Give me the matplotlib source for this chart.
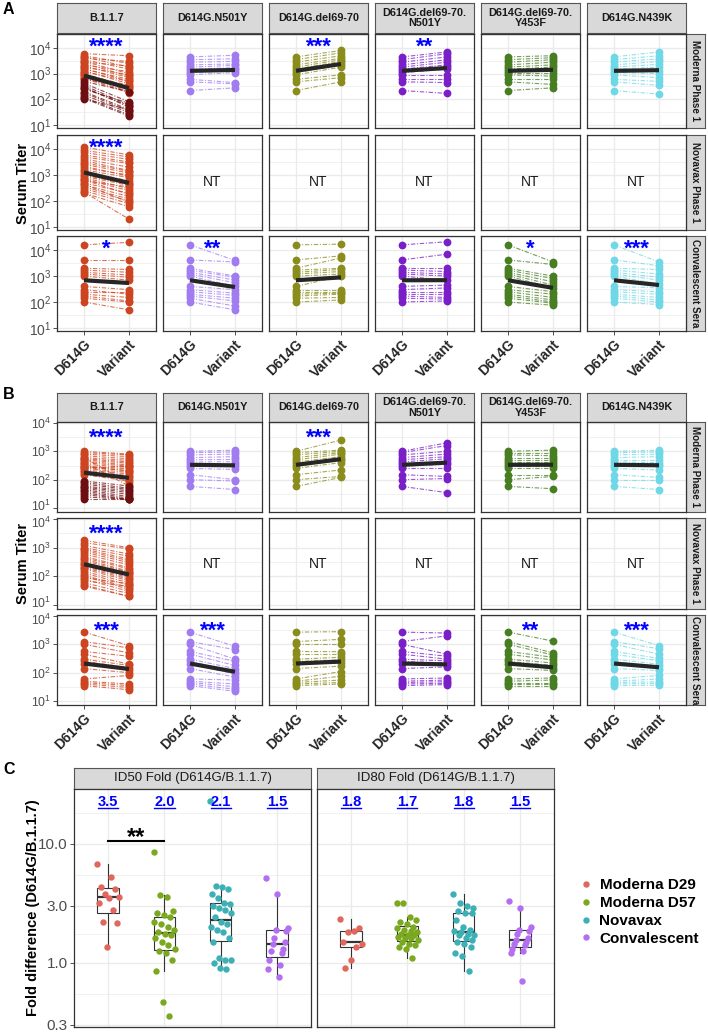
import numpy as np
import matplotlib
matplotlib.use('Agg')
import matplotlib.pyplot as plt
from matplotlib.lines import Line2D
from matplotlib.transforms import offset_copy
from matplotlib import cbook

plt.rcParams['font.family'] = ['Liberation Sans', 'DejaVu Sans']
plt.rcParams['mathtext.fontset'] = 'custom'
plt.rcParams['mathtext.rm'] = 'Liberation Sans'
plt.rcParams['mathtext.bf'] = 'Liberation Sans:bold'
plt.rcParams['mathtext.it'] = 'Liberation Sans:italic'

# ---------------- categories ----------------
variants = ["B.1.1.7", "D614G.N501Y", "D614G.del69-70", "D614G.del69-70.\nN501Y",
            "D614G.del69-70.\nY453F", "D614G.N439K"]
cohorts = ["Moderna Phase 1", "Novavax Phase 1", "Convalescent Sera"]
x_labels = ["D614G", "Variant"]
y_tick_values = [10, 100, 1000, 10000]
y_tick_labels = [r'$10^{1}$', r'$10^{2}$', r'$10^{3}$', r'$10^{4}$']
variant_colors = ["#CD4520", "#A07CF0", "#8A8C1C", "#7A1FC8", "#477E21", "#6ED8E6"]
b117_d29_color = "#6E0E10"

# ---------------- Panel A (ID50) ----------------
A_mod_b117_d57_wt = [6000, 5000, 4500, 4000, 3500, 3000, 2800, 2500, 2200, 2000, 1800,
                     1600, 1500, 1300, 1200, 1000, 900, 800, 700, 600, 1100, 650]
A_mod_b117_d57_var = [5000, 2500, 1800, 3000, 1500, 1000, 2000, 800, 1200, 700, 900,
                      500, 600, 400, 500, 300, 350, 250, 200, 300, 200, 180]
A_mod_b117_d29_wt = [500, 420, 350, 300, 250, 200, 180, 150, 120, 100, 110, 280]
A_mod_b117_d29_var = [200, 80, 60, 50, 70, 40, 35, 30, 25, 40, 22, 55]
A_mod_wt = [4500, 3500, 2800, 2200, 1800, 1500, 1300, 1100, 900, 600, 480, 220]
A_mod_n501y_var = [5200, 3800, 3000, 2400, 2100, 1700, 1500, 1300, 1100, 450, 400, 280]
A_mod_del_var = [8000, 6500, 5000, 4000, 3500, 3000, 2500, 2200, 1800, 900, 700, 480]
A_mod_deln501y_var = [7000, 6000, 4500, 3500, 2800, 2200, 1800, 1500, 900, 600, 450, 170]
A_mod_y453f_var = [5000, 4200, 3500, 2800, 2200, 1800, 1400, 1100, 800, 600, 380, 280]
A_mod_n439k_var = [7000, 5000, 3800, 3000, 2300, 1800, 1300, 1000, 700, 500, 350, 160]
A_nov_b117_wt = [12000, 9000, 7500, 6000, 5000, 4200, 3600, 3000, 2600, 2200, 1900, 1600, 1400, 1200,
                 1000, 900, 800, 700, 600, 500, 420, 350, 300, 250, 200, 220, 450, 650]
A_nov_b117_var = [6000, 5000, 4000, 3200, 2800, 2000, 1500, 1400, 1200, 900, 1000, 800, 600, 500,
                  450, 400, 300, 250, 350, 200, 150, 120, 100, 80, 60, 20, 90, 180]
A_conv_wt = [16000, 4200, 2000, 1700, 1400, 1200, 1000, 400, 300, 250, 200, 170, 140, 100]
A_conv_b117_var = [20000, 4200, 1800, 1400, 1100, 900, 700, 300, 200, 250, 150, 110, 100, 50]
A_conv_n501y_var = [4000, 3500, 1000, 900, 700, 550, 400, 300, 220, 180, 140, 110, 70, 50]
A_conv_del_var = [17000, 6000, 5000, 2000, 1800, 1500, 1200, 1000, 300, 250, 220, 200, 150, 120]
A_conv_deln501y_var = [21000, 7000, 2000, 1500, 1200, 1000, 700, 450, 350, 250, 200, 150, 130, 110]
A_conv_y453f_var = [3500, 2800, 1000, 800, 600, 450, 350, 250, 200, 150, 120, 100, 90, 75]
A_conv_n439k_var = [3500, 2500, 1800, 1200, 900, 700, 500, 350, 250, 200, 150, 120, 100, 80]
A_stars = [["****", "", "***", "**", "", ""],
           ["****", None, None, None, None, None],
           ["*", "**", "", "", "*", "***"]]

# ---------------- Panel B (ID80) ----------------
B_mod_b117_d57_wt = [1000, 900, 800, 700, 600, 550, 500, 450, 400, 350, 300,
                     280, 250, 220, 200, 180, 160, 150, 600, 400, 300, 250]
B_mod_b117_d57_var = [800, 750, 650, 550, 480, 420, 380, 330, 300, 270, 240,
                      210, 180, 160, 140, 120, 110, 90, 75, 60, 200, 300]
B_mod_b117_d29_wt = [90, 80, 70, 60, 55, 50, 45, 40, 35, 30, 25, 20]
B_mod_b117_d29_var = [60, 50, 45, 40, 35, 30, 25, 22, 20, 20, 20, 20]
B_mod_wt = [1000, 900, 750, 600, 500, 420, 350, 300, 250, 150, 100, 58]
B_mod_n501y_var = [1100, 950, 800, 650, 520, 430, 350, 300, 230, 100, 90, 45]
B_mod_del_var = [2500, 1100, 1000, 900, 800, 650, 550, 500, 400, 220, 130, 120]
B_mod_deln501y_var = [2000, 1600, 1000, 800, 650, 550, 420, 350, 250, 130, 110, 35]
B_mod_y453f_var = [1100, 900, 700, 600, 500, 420, 350, 300, 250, 150, 130, 48]
B_mod_n439k_var = [1100, 950, 800, 650, 500, 400, 330, 300, 220, 120, 100, 45]
B_nov_b117_wt = [1800, 1500, 1200, 1000, 900, 800, 700, 600, 500, 450, 400, 350, 300, 280,
                 250, 220, 200, 180, 150, 130, 110, 100, 80, 60, 50, 45, 70, 90]
B_nov_b117_var = [1000, 900, 600, 500, 400, 350, 300, 250, 200, 180, 150, 140, 130, 120,
                  100, 90, 80, 70, 60, 50, 40, 35, 30, 25, 20, 20, 45, 55]
B_conv_wt = [2700, 1250, 1000, 560, 450, 300, 250, 200, 140, 60, 50, 45, 40, 35]
B_conv_b117_var = [900, 750, 500, 380, 200, 180, 150, 120, 100, 80, 40, 35, 30, 25]
B_conv_n501y_var = [850, 650, 300, 250, 180, 140, 110, 90, 70, 55, 40, 32, 26, 22]
B_conv_del_var = [2800, 1500, 1000, 550, 450, 350, 280, 220, 170, 110, 75, 55, 45, 40]
B_conv_deln501y_var = [2500, 2000, 450, 380, 300, 260, 220, 190, 160, 65, 55, 48, 42, 38]
B_conv_y453f_var = [1300, 500, 420, 350, 280, 220, 180, 150, 120, 65, 55, 45, 40, 35]
B_conv_n439k_var = [900, 700, 450, 320, 260, 200, 170, 140, 120, 80, 60, 48, 42, 36]
B_stars = [["****", "", "***", "", "", ""],
           ["****", None, None, None, None, None],
           ["***", "***", "", "", "**", "***"]]

# ---------------- Panel C (fold differences) ----------------
C_facets = ["ID50 Fold (D614G/B.1.1.7)", "ID80 Fold (D614G/B.1.1.7)"]
C_groups = ["Moderna D29", "Moderna D57", "Novavax", "Convalescent"]
C_colors = ["#E0675D", "#7AA81E", "#3DB0B5", "#B46EF0"]
C_id50_d29 = [6.8, 5.3, 4.3, 4.2, 3.8, 3.6, 3.5, 3.2, 2.8, 2.2, 2.15, 1.35]
C_id50_d57 = [8.6, 3.7, 3.6, 2.7, 2.6, 2.5, 2.4, 2.2, 2.1, 2.0, 1.9, 1.8, 1.75, 1.7,
              1.6, 1.5, 1.4, 1.3, 1.25, 1.2, 1.05, 0.85, 0.47, 0.36]
C_id50_nov = [23.0, 4.4, 4.3, 4.2, 3.8, 3.5, 3.2, 3.1, 3.0, 2.9, 2.8, 2.6, 2.4, 2.2, 2.1,
              2.0, 1.9, 1.8, 1.6, 1.5, 1.1, 1.05, 1.05, 1.0, 0.9, 0.88]
C_id50_conv = [5.2, 3.8, 1.95, 1.9, 1.85, 1.6, 1.5, 1.45, 1.3, 1.25, 1.2, 1.05, 0.95, 0.88, 0.76]
C_id80_d29 = [2.35, 1.95, 1.85, 1.8, 1.5, 1.45, 1.35, 1.05, 0.9]
C_id80_d57 = [3.2, 3.2, 2.4, 2.3, 2.2, 2.1, 2.0, 1.95, 1.9, 1.85, 1.8, 1.75, 1.7, 1.7,
              1.65, 1.6, 1.6, 1.55, 1.5, 1.45, 1.4, 1.35, 1.3, 1.1]
C_id80_nov = [3.8, 3.2, 3.0, 2.9, 2.7, 2.6, 2.6, 2.3, 2.0, 1.9, 1.85, 1.8, 1.75, 1.7,
              1.7, 1.6, 1.55, 1.5, 1.45, 1.35, 1.2, 1.15, 0.85]
C_id80_conv = [3.3, 2.9, 2.0, 1.9, 1.85, 1.75, 1.6, 1.55, 1.5, 1.45, 1.4, 1.3, 1.25, 1.2, 0.7]
C_fold_labels = [["3.5", "2.0", "2.1", "1.5"], ["1.8", "1.7", "1.8", "1.5"]]
C_yticks = [0.3, 1.0, 3.0, 10.0]

# ---------------- layout ----------------
W, H = 708, 1034
fig = plt.figure(figsize=(W / 100, H / 100), dpi=100)
BORDER = '#333333'
STRIP = '#D9D9D9'
GRID = '#EBEBEB'
TICKC = '#4D4D4D'


def px_axes(x0, y0, x1, y1):
    return fig.add_axes([x0 / W, 1 - y1 / H, (x1 - x0) / W, (y1 - y0) / H])


def strip(x0, y0, x1, y1, text, rot=0, size=7.8, weight='bold'):
    a = px_axes(x0, y0, x1, y1)
    a.set_facecolor(STRIP)
    a.set_xticks([])
    a.set_yticks([])
    for s in a.spines.values():
        s.set_color('#555555')
        s.set_linewidth(0.8)
    a.text(0.5, 0.5, text, rotation=rot, ha='center', va='center', fontsize=size,
           fontweight=weight, color='#1A1A1A', transform=a.transAxes, linespacing=1.05)
    return a


def style_log_panel(ax, ylo, yhi):
    ax.set_yscale('log')
    ax.set_xlim(0.4, 2.6)
    ax.set_ylim(10 ** ylo, 10 ** yhi)
    for e in [0.5, 1.5, 2.5, 3.5, 4.5]:
        ax.axhline(10 ** e, color=GRID, lw=0.5, zorder=0)
    for e in [1, 2, 3, 4]:
        ax.axhline(10 ** e, color=GRID, lw=1.0, zorder=0)
    for xv in [1, 2]:
        ax.axvline(xv, color=GRID, lw=1.0, zorder=0)
    for s in ax.spines.values():
        s.set_color(BORDER)
        s.set_linewidth(0.9)
    ax.yaxis.set_minor_locator(matplotlib.ticker.NullLocator())
    ax.set_yticks(y_tick_values)
    ax.set_xticks([1, 2])
    ax.tick_params(axis='both', length=3, width=0.6, color=BORDER, labelcolor=TICKC, pad=1.5)
    ax.tick_params(axis='y', labelleft=False)


def y_labels(ax, i, nrows, tsize, nudge):
    # tick labels as text next to the left axis; edge labels nudged so adjacent rows don't collide
    for k, (v, lbl) in enumerate(zip(y_tick_values, y_tick_labels)):
        dy = 0
        if k == 0 and i < nrows - 1:
            dy = nudge
        if k == len(y_tick_values) - 1 and i > 0:
            dy = -nudge
        tr = offset_copy(ax.get_yaxis_transform(), fig=fig, x=-4.2, y=dy, units='points')
        ax.text(0, v, lbl, transform=tr, ha='right', va='center_baseline', fontsize=tsize,
                color=TICKC, clip_on=False)


def paired(ax, groups):
    allw, allv = [], []
    for wt, var, col in groups:
        for a, b in zip(wt, var):
            ax.plot([1, 2], [a, b], color=col, lw=0.8, ls=(0, (4, 1.5, 1, 1.5)), alpha=0.75, zorder=2)
        ax.plot([1] * len(wt), wt, 'o', color=col, ms=5.6, mec='none', zorder=3)
        ax.plot([2] * len(var), var, 'o', color=col, ms=5.6, mec='none', zorder=3)
        allw += list(wt)
        allv += list(var)
    gm = [10 ** np.mean(np.log10(allw)), 10 ** np.mean(np.log10(allv))]
    ax.plot([1, 2], gm, color='#262626', lw=3, solid_capstyle='butt', zorder=4)


col_x = [57, 163, 269, 375, 481, 587]
col_w = 99


def draw_panel(rows_px, strip_px, ylo, yhi, data_rows, stars, star_c, ylab_y, tsize, nudge):
    for j, v in enumerate(variants):
        strip(col_x[j], strip_px[0], col_x[j] + col_w, strip_px[1], v)
    for i, (ry0, ry1) in enumerate(rows_px):
        strip(col_x[5] + col_w, ry0, 705, ry1, cohorts[i], rot=-90, size=7.1)
        for j in range(6):
            ax = px_axes(col_x[j], ry0, col_x[j] + col_w, ry1)
            style_log_panel(ax, ylo, yhi)
            if j > 0:
                ax.tick_params(axis='y', left=False)
            else:
                y_labels(ax, i, len(rows_px), tsize, nudge)
            if i < 2:
                ax.tick_params(axis='x', bottom=False, labelbottom=False)
            else:
                ax.set_xticklabels(x_labels, rotation=45, ha='right', rotation_mode='anchor',
                                   fontweight='bold', fontsize=10, color='#262626')
            groups = data_rows[i][j]
            if groups is None:
                ax.text(1.5, 10 ** ((ylo + yhi) / 2), 'NT', ha='center', va='center',
                        fontsize=10, color='#1A1A1A')
            else:
                paired(ax, groups)
                s = stars[i][j]
                if s:
                    ax.annotate(s, xy=(1.5, 10 ** star_c), xytext=(0, -9.0),
                                textcoords='offset points', ha='center', va='baseline',
                                color='#0000FF', fontsize=16, fontweight='bold', zorder=6)
    fig.text(23 / W, 1 - ylab_y / H, 'Serum Titer', rotation=90, ha='center', va='center',
             fontsize=10.5, fontweight='bold')


c0, c1, c2, c3, c4, c5 = variant_colors
A_rows = [
    [[(A_mod_b117_d57_wt, A_mod_b117_d57_var, c0), (A_mod_b117_d29_wt, A_mod_b117_d29_var, b117_d29_color)],
     [(A_mod_wt, A_mod_n501y_var, c1)], [(A_mod_wt, A_mod_del_var, c2)],
     [(A_mod_wt, A_mod_deln501y_var, c3)], [(A_mod_wt, A_mod_y453f_var, c4)],
     [(A_mod_wt, A_mod_n439k_var, c5)]],
    [[(A_nov_b117_wt, A_nov_b117_var, c0)], None, None, None, None, None],
    [[(A_conv_wt, A_conv_b117_var, c0)], [(A_conv_wt, A_conv_n501y_var, c1)],
     [(A_conv_wt, A_conv_del_var, c2)], [(A_conv_wt, A_conv_deln501y_var, c3)],
     [(A_conv_wt, A_conv_y453f_var, c4)], [(A_conv_wt, A_conv_n439k_var, c5)]],
]
B_rows = [
    [[(B_mod_b117_d57_wt, B_mod_b117_d57_var, c0), (B_mod_b117_d29_wt, B_mod_b117_d29_var, b117_d29_color)],
     [(B_mod_wt, B_mod_n501y_var, c1)], [(B_mod_wt, B_mod_del_var, c2)],
     [(B_mod_wt, B_mod_deln501y_var, c3)], [(B_mod_wt, B_mod_y453f_var, c4)],
     [(B_mod_wt, B_mod_n439k_var, c5)]],
    [[(B_nov_b117_wt, B_nov_b117_var, c0)], None, None, None, None, None],
    [[(B_conv_wt, B_conv_b117_var, c0)], [(B_conv_wt, B_conv_n501y_var, c1)],
     [(B_conv_wt, B_conv_del_var, c2)], [(B_conv_wt, B_conv_deln501y_var, c3)],
     [(B_conv_wt, B_conv_y453f_var, c4)], [(B_conv_wt, B_conv_n439k_var, c5)]],
]

draw_panel([(34, 128), (135, 230), (236, 331)], (3, 33), 0.883, 4.545, A_rows, A_stars, 4.31, 183, 10, 0)
draw_panel([(422, 512), (518, 609), (615, 705)], (393, 422), 0.86, 4.035, B_rows, B_stars, 3.72, 563, 8.8, 2.2)

fig.text(3 / W, 1 - 9 / H, 'A', fontsize=11.5, fontweight='bold', va='center', ha='left')
fig.text(3 / W, 1 - 395 / H, 'B', fontsize=11.5, fontweight='bold', va='center', ha='left')
fig.text(3 / W, 1 - 769 / H, 'C', fontsize=11.5, fontweight='bold', va='center', ha='left')

# ---------------- Panel C ----------------
C_data = [[C_id50_d29, C_id50_d57, C_id50_nov, C_id50_conv],
          [C_id80_d29, C_id80_d57, C_id80_nov, C_id80_conv]]
C_x = [(74, 311), (317, 554)]
fold_texts = []
for k in range(2):
    strip(C_x[k][0], 768, C_x[k][1], 789, C_facets[k], size=9.5, weight='normal')
    ax = px_axes(C_x[k][0], 789, C_x[k][1], 1027)
    ax.set_yscale('log')
    ax.set_xlim(0.4, 4.6)
    ax.set_ylim(10 ** -0.54, 10 ** 1.46)
    for e in [-0.26, 0.24, 0.74, 1.26]:
        ax.axhline(10 ** e, color=GRID, lw=0.5, zorder=0)
    for v in C_yticks:
        ax.axhline(v, color=GRID, lw=1.0, zorder=0)
    for xv in [1, 2, 3, 4]:
        ax.axvline(xv, color=GRID, lw=1.0, zorder=0)
    for s in ax.spines.values():
        s.set_color(BORDER)
        s.set_linewidth(0.9)
    ax.yaxis.set_minor_locator(matplotlib.ticker.NullLocator())
    ax.set_yticks(C_yticks)
    if k == 0:
        ax.set_yticklabels(['0.3', '1.0', '3.0', '10.0'])
        ax.tick_params(axis='y', length=3, width=0.6, color=BORDER, labelcolor=TICKC,
                       labelsize=11, pad=1.5)
    else:
        ax.tick_params(axis='y', left=False, labelleft=False)
    ax.set_xticks([1, 2, 3, 4])
    ax.tick_params(axis='x', bottom=False, labelbottom=False)
    # boxplots on log10 scale
    stats = []
    for vals in C_data[k]:
        st = cbook.boxplot_stats(np.log10(vals), whis=1.5)[0]
        for key in ['med', 'q1', 'q3', 'whislo', 'whishi']:
            st[key] = 10 ** st[key]
        st['fliers'] = []
        stats.append(st)
    ax.bxp(stats, positions=[1, 2, 3, 4], widths=0.38, showfliers=False, showcaps=False,
           patch_artist=True,
           boxprops=dict(facecolor='white', edgecolor='#333333', lw=0.8),
           medianprops=dict(color='#333333', lw=1.6),
           whiskerprops=dict(color='#333333', lw=0.8), manage_ticks=False)
    for g, vals in enumerate(C_data[k]):
        n = len(vals)
        base = np.linspace(-0.19, 0.19, n)
        offs = base[(np.arange(n) * 7) % n]
        ax.plot(g + 1 + offs, vals, 'o', color=C_colors[g], ms=4.6, mec='none', zorder=5)
        t = ax.text(g + 1, 10 ** 1.35, C_fold_labels[k][g], color='#0000FF', fontsize=10.5,
                    fontweight='bold', ha='center', va='center', zorder=6)
        fold_texts.append(t)
    if k == 0:
        ax.plot([1, 2], [10 ** 1.025, 10 ** 1.025], color='black', lw=1.5)
        ax.annotate('**', xy=(1.5, 10 ** 1.11), xytext=(0, -9.5), textcoords='offset points',
                    ha='center', va='baseline', fontsize=17, fontweight='bold', color='black')

fig.text(33 / W, 1 - 908 / H, 'Fold difference (D614G/B.1.1.7)', rotation=90, ha='center',
         va='center', fontsize=10.5, fontweight='bold')

handles = [Line2D([], [], marker='o', ls='none', color=c, ms=4.6, mec='none') for c in C_colors]
fig.legend(handles, C_groups, loc='center left', bbox_to_anchor=(572 / W, 1 - 912 / H),
           frameon=False, prop={'size': 11, 'weight': 'bold'}, handletextpad=0.4,
           labelspacing=0.25, handlelength=1.0, borderaxespad=0)

fig.canvas.draw()
r = fig.canvas.get_renderer()
for t in fold_texts:
    bb = t.get_window_extent(r)
    yy = (bb.y0 + 1.0) / H
    fig.add_artist(Line2D([bb.x0 / W, bb.x1 / W], [yy, yy], transform=fig.transFigure,
                          color='#0000FF', lw=1.0))

fig.savefig('out.png', dpi=100)
